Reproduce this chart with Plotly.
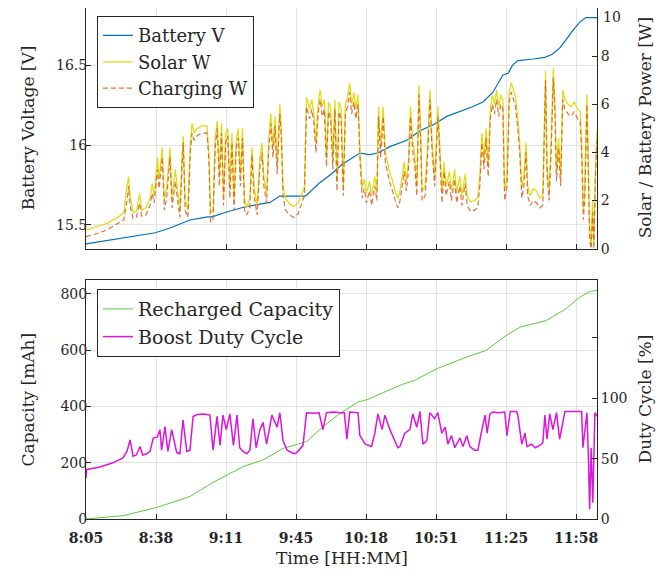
import plotly.graph_objects as go

# ---------------- data (minutes after 8:05) ----------------
t_batt = [0, 10, 18.6, 25, 33, 40, 49.5, 58, 60, 67, 75, 82.8, 87.6, 92.3, 95, 100, 104, 105,
          111, 117, 122, 125.6, 130.4, 135, 139, 144.7, 152.8, 159, 165, 171.8, 178, 184,
          189, 193.7, 198.5, 201, 203, 205.6, 213, 218.5, 222, 225.6, 228.5, 231.8, 235, 238, 243.3]
batt_v = [15.38, 15.40, 15.42, 15.43, 15.45, 15.48, 15.53, 15.55, 15.55, 15.58, 15.61, 15.63, 15.64,
          15.68, 15.68, 15.68, 15.68, 15.685, 15.76, 15.82, 15.88, 15.91, 15.95, 15.94, 15.95,
          15.99, 16.03, 16.09, 16.125, 16.18, 16.21, 16.24, 16.27, 16.33, 16.44, 16.45, 16.5,
          16.53, 16.54, 16.55, 16.57, 16.61, 16.66, 16.72, 16.77, 16.80, 16.80]

t_pow = [0, 5, 10, 15, 18, 19.5, 20.3, 21, 22.4, 24, 25.5, 26.5, 28.5, 30.5, 31.5, 32.5, 34, 34.8,
         36.3, 37.3, 38.5, 40, 41, 42.5, 43.5, 44.7, 45.7, 46.3, 47.2, 48.5, 49.7, 50.5, 51.5, 53,
         55, 57.6, 58.5, 59.3, 60.5, 61.5, 62.5, 63.5, 64.5, 65.5, 66.5, 67.5, 68.5, 69.5, 70.5,
         71.5, 72.5, 73.5, 74.5, 75.5, 76.5, 78, 79, 80, 81.5, 82.8, 83.8, 84.7, 86, 87, 88, 89,
         90, 91, 92.3, 93, 93.8, 95, 97, 99, 101, 103, 104, 105, 106.5, 107.5, 108.5, 109.5,
         110.5, 111.5, 112.5, 113.5, 114.5, 115.5, 116.5, 117.5, 118.5, 119.5, 120.5, 121.5,
         122.5, 123.5, 124.5, 125.5, 126.5, 127.5, 128.5, 129.5, 130.5, 131.5, 132.5, 133.5,
         135, 136, 137.5, 138.5, 139.3, 140.3, 141.5, 142.5, 143.5, 144.5, 146, 147.5, 148.5,
         149.5, 150.5, 151.5, 152.5, 153.5, 154.5, 155.5, 156.5, 157.5, 158.5, 159.3, 160,
         161.5, 162.5, 163.8, 164.8, 166, 167.6, 168.5, 169.5, 170.5, 171.5, 173, 174, 175.5,
         176.5, 178, 179, 180.5, 181.5, 183, 185, 186.5, 187.5, 188.5, 189.5, 190.5, 191.5,
         192.5, 193.5, 194.5, 195.5, 196.5, 197.5, 198.5, 199.3, 200.5, 201.5, 202.5, 203.5,
         204.5, 205.5, 206.5, 207.5, 208.5, 209.5, 210.3, 211.5, 213, 214.5, 216, 217.5, 218.2,
         218.8, 219.5, 220.5, 221.5, 222.5, 223.3, 224, 225, 226, 227, 228, 229.5, 231, 232.5,
         234, 235.3, 236, 236.8, 237.5, 238.5, 239.2, 239.8, 240.5, 241.2, 241.8, 242.5, 243.3]
solar_w = [0.78, 0.9, 1.05, 1.3, 1.5, 2.6, 3.0, 2.2, 1.5, 1.55, 2.3, 1.6, 1.7, 2.1, 2.7, 2.2, 3.8, 2.9,
           4.2, 2.0, 2.6, 4.2, 2.1, 3.3, 2.5, 1.6, 3.8, 4.7, 2.0, 1.6, 4.4, 5.2, 4.8, 5.0,
           5.1, 5.1, 4.0, 1.6, 1.5, 4.6, 5.3, 3.0, 5.2, 2.2, 4.8, 5.0, 2.5, 4.8, 2.0,
           4.5, 5.0, 3.0, 5.0, 2.0, 1.7, 2.1, 4.2, 2.6, 1.8, 3.8, 4.4, 3.0, 2.3, 4.5, 5.6, 4.2,
           5.5, 3.5, 6.0, 5.0, 2.6, 2.1, 1.85, 1.75, 1.9, 2.3, 2.55, 6.3, 5.8, 6.2, 5.6, 4.4,
           6.0, 6.6, 5.9, 6.2, 3.8, 6.1, 5.8, 3.7, 6.2, 2.8, 6.1, 5.8,
           2.6, 6.0, 6.3, 6.9, 6.0, 6.5, 5.8, 6.4, 4.0, 2.5, 2.9, 2.3,
           2.8, 2.2, 3.0, 2.4, 5.9, 4.2, 5.9, 4.0, 3.6, 3.2, 2.8, 2.3, 2.1,
           2.4, 3.0, 3.6, 2.8, 3.6, 5.9, 4.5, 3.9, 2.6, 6.8, 5.0, 2.4,
           2.6, 4.0, 6.6, 4.4, 3.0, 5.9, 3.8, 2.3, 3.6, 2.6, 3.2, 2.4, 3.3,
           2.3, 3.0, 2.2, 3.1, 2.2, 1.95, 2.0, 2.1, 3.0, 4.8, 3.7, 5.0, 3.4,
           5.8, 6.4, 6.0, 6.6, 5.9, 6.4, 6.2, 2.4, 3.0, 6.5, 6.9, 6.6,
           6.3, 5.5, 4.4, 2.5, 3.0, 4.4, 2.6, 2.2, 2.5, 2.4, 2.1, 2.2, 5.0,
           7.4, 3.5, 2.4, 4.5, 7.5, 6.0, 3.2, 4.6, 3.0, 6.6, 6.2, 6.0, 5.9, 6.1,
           5.8, 5.7, 4.4, 1.6, 2.5, 6.4, 3.0, 0.8, 0.1, 2.0, 0.2, 3.2, 4.9]
charging_w = [0.50, 0.62, 0.78, 1.05, 1.2, 2.0, 2.6, 1.8, 1.25, 1.3, 1.9, 1.35, 1.4, 1.8, 2.3, 1.9, 3.3, 2.5,
              3.8, 1.6, 2.2, 3.8, 1.7, 2.8, 2.0, 1.3, 3.3, 4.4, 1.6, 1.3, 4.0, 4.8, 4.5, 4.7,
              4.8, 4.8, 3.7, 1.1, 1.2, 4.2, 5.0, 2.6, 4.8, 1.8, 4.4, 4.7, 2.1, 4.4, 1.6,
              4.2, 4.6, 2.6, 4.6, 1.6, 1.4, 1.7, 3.9, 2.2, 1.4, 3.4, 4.0, 2.6, 1.9, 4.1, 5.2, 3.8,
              5.1, 3.1, 5.6, 4.6, 2.2, 1.6, 1.4, 1.3, 1.45, 1.9, 2.2, 5.9, 5.4, 5.8, 5.2, 4.0,
              5.6, 6.2, 5.5, 5.8, 3.4, 5.7, 5.4, 3.3, 5.8, 2.4, 5.7, 5.4,
              2.2, 5.6, 5.9, 6.5, 5.6, 6.1, 5.4, 6.0, 3.6, 2.1, 2.5, 1.9,
              2.4, 1.8, 2.6, 2.0, 5.5, 3.8, 5.5, 3.6, 3.2, 2.8, 2.4, 1.9, 1.7,
              2.0, 2.6, 3.2, 2.4, 3.2, 5.5, 4.1, 3.5, 2.2, 6.4, 4.6, 2.0,
              2.2, 3.6, 6.2, 4.0, 2.6, 5.5, 3.4, 1.9, 3.2, 2.2, 2.8, 2.0, 2.9,
              1.9, 2.6, 1.8, 2.7, 1.8, 1.55, 1.6, 1.7, 2.6, 4.4, 3.3, 4.6, 3.0,
              5.4, 6.0, 5.6, 6.2, 5.5, 6.0, 5.8, 2.0, 2.6, 6.1, 6.5, 6.2,
              5.9, 5.1, 4.0, 2.1, 2.6, 4.0, 2.2, 1.8, 2.0, 1.9, 1.7, 1.8, 4.6,
              7.0, 3.1, 2.0, 4.1, 7.1, 5.6, 2.8, 4.2, 2.6, 6.2, 5.8, 5.6, 5.5, 5.7,
              5.4, 5.3, 4.0, 1.2, 2.1, 6.0, 2.6, 0.4, 0.0, 1.5, 0.0, 2.8, 4.5]

t_cap = [0, 17.7, 33.8, 49.5, 60.5, 67, 74.7, 84.3, 93.8, 105, 112.8, 120.9, 129.5, 134.2,
         142.3, 150.4, 156.6, 167, 181, 190.4, 200, 206.6, 219, 228.5, 235, 240, 243.3]
capacity_mah = [0, 12, 41, 80, 130, 157, 186, 210, 251, 275, 328, 375, 416, 425,
                452, 478, 493, 534, 575, 599, 652, 682, 705, 747, 788, 809, 812]

t_duty = [0, 0.3, 6.7, 12.8, 17.6, 19.5, 21, 22.4, 24, 25.7, 27, 29, 30.5, 32, 34, 35.2, 36, 37.6,
          39, 40.8, 43.2, 44.7, 46.2, 48, 49.5, 51, 53, 56, 59, 60.5, 62.4, 63.8, 65.2, 66.8,
          68.5, 70.2, 71.9, 73.2, 74.7, 76.6, 78, 79.5, 81, 82.8, 84.3, 86, 88.5, 91, 92.3,
          93.8, 95.7, 99, 100.4, 102, 103.3, 105, 108, 111, 112.8, 114.5, 118, 121, 123,
          124.2, 125.6, 129.5, 130.4, 133, 136, 137.5, 139, 141, 142.3, 144.7, 148.5, 149.5,
          151.8, 154.2, 155.6, 157.5, 159, 160.4, 162.3, 163.7, 166, 167.5, 169.4, 171, 172.3,
          174, 175.6, 178, 179.5, 181.3, 182.8, 185, 186.6, 188.5, 190, 191, 192.3, 193.7,
          196.5, 199.4, 200.4, 202, 205, 205.6, 207.5, 209, 210, 212, 214, 216, 217.5, 218.5,
          219.5, 220.8, 222.3, 224, 225.5, 228, 232, 236, 236.6, 237.5, 238.5, 239.2, 239.8,
          240.5, 241.3, 242.3, 243.3]
duty_pct = [34, 41, 43, 46.5, 50.6, 56, 65.5, 52, 53, 60, 53, 54, 56, 67, 68, 74, 57, 76.5,
            56, 74, 55, 54, 82, 56, 57, 84.8, 86.5, 87, 86, 57, 85, 61, 86, 74,
            87, 61, 86, 59, 56, 54, 57, 83, 59, 74, 80, 62, 86, 76, 88,
            65, 57, 54, 55, 58, 61, 88, 87.5, 88, 74, 88, 88.5, 88, 88,
            66, 88.5, 88, 69, 62, 60, 71, 87, 74, 86, 74, 59, 60,
            71, 74, 87, 76, 89, 62, 65, 88, 83, 88, 71, 76, 62,
            69, 59, 67, 60, 69, 60, 57, 57, 74, 86, 71, 87, 88.5,
            88, 88.5, 69, 89, 89, 86, 62, 71, 60, 62, 59, 61, 63, 86,
            66, 87, 74, 88, 66, 89, 89, 89, 59, 75, 88, 52, 8,
            59, 13.5, 88, 85]

tick_vals = [0, 33.333, 66.667, 100, 133.333, 166.667, 200, 233.333]
tick_text = ["8:05", "8:38", "9:11", "9:45", "10:18", "10:51", "11:25", "11:58"]
power_ticks = [0, 2, 4, 6, 8, 10]

# ---------------- figure ----------------
FONT = "DejaVu Serif"
AX = "#262626"
GRID = "#e3e3e3"

fig = go.Figure()

fig.add_trace(go.Scatter(x=t_batt, y=batt_v, name="Battery V", mode="lines",
                         line=dict(color="#0072BD", width=1.2), xaxis="x", yaxis="y",
                         legend="legend"))
fig.add_trace(go.Scatter(x=t_pow, y=solar_w, name="Solar W", mode="lines",
                         line=dict(color="#dede1a", width=1.3), xaxis="x", yaxis="y2",
                         legend="legend"))
fig.add_trace(go.Scatter(x=t_pow, y=charging_w, name="Charging W", mode="lines",
                         line=dict(color="#e0581a", width=1.2, dash="5px,3px"), opacity=0.85,
                         xaxis="x", yaxis="y2", legend="legend"))
fig.add_trace(go.Scatter(x=t_cap, y=capacity_mah, name="Recharged Capacity", mode="lines",
                         line=dict(color="#5cc83c", width=1), xaxis="x2", yaxis="y3",
                         legend="legend2"))
fig.add_trace(go.Scatter(x=t_duty, y=duty_pct, name="Boost Duty Cycle", mode="lines",
                         line=dict(color="#dc14dc", width=1.5), xaxis="x2", yaxis="y4",
                         legend="legend2"))

# The page body has an 8px default margin, so the figure is sized to fit the window.
tickfont = dict(family=FONT, size=14, color=AX)
xcommon = dict(range=[0, 243.3], tickvals=tick_vals, showgrid=True, gridcolor=GRID,
               showline=True, linecolor=AX, mirror=True, ticks="inside", ticklen=5,
               tickcolor=AX, zeroline=False, automargin=False)
top_dom = [0.529, 1.0]
bot_dom = [0.0, 0.468]
ycommon = dict(showline=True, linecolor=AX, ticks="inside", ticklen=5, tickcolor=AX,
               tickfont=tickfont, zeroline=False, automargin=False, ticklabeloverflow="allow")

# top tick label of the power axis is drawn as an annotation so it is not clipped
power_text = [str(v) for v in power_ticks[:-1]] + [""]

fig.update_layout(
    width=659, height=563,
    margin=dict(l=78, r=70, t=0, b=52, autoexpand=False),
    paper_bgcolor="white", plot_bgcolor="white",
    showlegend=True,
    xaxis=dict(domain=[0, 1], anchor="y", showticklabels=False, **xcommon),
    yaxis=dict(domain=top_dom, range=[15.35, 16.86], tickvals=[15.5, 16, 16.5],
               ticktext=["15.5", "16", "16.5"], showgrid=True, gridcolor=GRID,
               ticklabelstandoff=-5, **ycommon),
    yaxis2=dict(domain=top_dom, overlaying="y", side="right", anchor="x",
                range=[0, 10.001], tickvals=power_ticks, ticktext=power_text,
                showgrid=False, **ycommon),
    xaxis2=dict(domain=[0, 1], anchor="y3", ticktext=["<b>%s</b>" % s for s in tick_text],
                tickfont=dict(family=FONT, size=14, color=AX), ticklabelstandoff=6,
                ticklabeloverflow="allow", **xcommon),
    yaxis3=dict(domain=bot_dom, anchor="x2", range=[0, 850], tickvals=[0, 200, 400, 600, 800],
                showgrid=True, gridcolor=GRID, ticklabelstandoff=-5, **ycommon),
    yaxis4=dict(domain=bot_dom, overlaying="y3", side="right", anchor="x2", range=[0, 198],
                tickvals=[0, 50, 100, 150], ticktext=["0", "50", "100", ""], showgrid=False,
                **ycommon),
    legend=dict(x=0.0215, y=0.984, xanchor="left", yanchor="top", bgcolor="white",
                bordercolor=AX, borderwidth=1, font=dict(family=FONT, size=18, color=AX),
                tracegroupgap=0, itemwidth=30),
    legend2=dict(x=0.0215, y=0.450, xanchor="left", yanchor="top", bgcolor="white",
                 bordercolor=AX, borderwidth=1, font=dict(family=FONT, size=19, color=AX),
                 tracegroupgap=0, itemwidth=30),
)

fig.add_annotation(text=str(power_ticks[-1]), xref="paper", yref="paper", x=1.0, y=1.0,
                   xanchor="left", yanchor="top", xshift=4, yshift=1, showarrow=False,
                   font=tickfont)

ann_font = dict(family=FONT, size=17, color=AX)
fig.add_annotation(text="Battery Voltage [V]", textangle=-90, xref="paper", yref="paper",
                   x=-0.1135, y=(top_dom[0] + top_dom[1]) / 2, xanchor="center", yanchor="middle",
                   showarrow=False, font=ann_font)
fig.add_annotation(text="Solar / Battery Power [W]", textangle=-90, xref="paper", yref="paper",
                   x=1.094, y=(top_dom[0] + top_dom[1]) / 2, xanchor="center", yanchor="middle",
                   showarrow=False, font=ann_font)
fig.add_annotation(text="Capacity [mAh]", textangle=-90, xref="paper", yref="paper",
                   x=-0.1135, y=(bot_dom[0] + bot_dom[1]) / 2, xanchor="center", yanchor="middle",
                   showarrow=False, font=ann_font)
fig.add_annotation(text="Duty Cycle [%]", textangle=-90, xref="paper", yref="paper",
                   x=1.094, y=(bot_dom[0] + bot_dom[1]) / 2, xanchor="center", yanchor="middle",
                   showarrow=False, font=ann_font)
fig.add_annotation(text="Time [HH:MM]", xref="paper", yref="paper", x=0.5, y=-0.076,
                   xanchor="center", yanchor="middle", showarrow=False, font=ann_font)

fig.write_html("out.html")
